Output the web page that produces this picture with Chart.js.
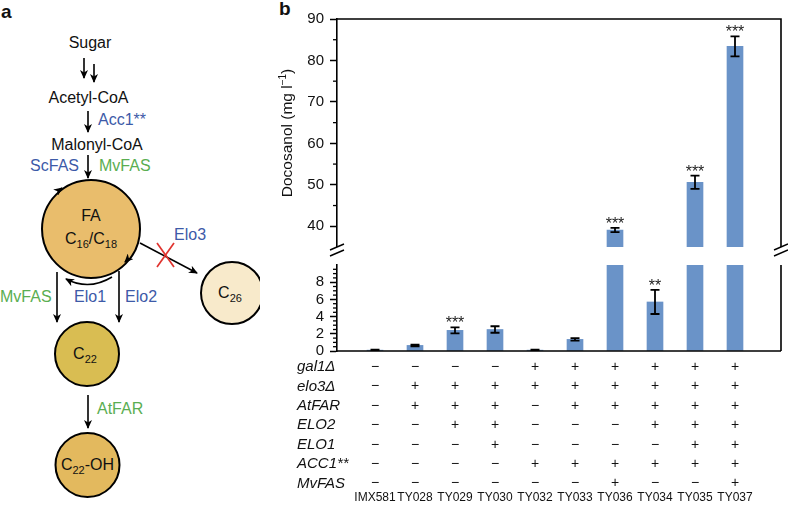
<!DOCTYPE html>
<html><head><meta charset="utf-8">
<script src="https://cdn.jsdelivr.net/npm/chart.js@4/dist/chart.umd.min.js"></script>
<style>
html,body{margin:0;padding:0;background:#fff;}
#wrap{position:relative;width:788px;height:506px;overflow:hidden;font-family:"Liberation Sans",Arial,Helvetica,sans-serif;background:#fff;}
#diag{position:absolute;left:0;top:0;}
#botBox{position:absolute;left:260px;top:250px;width:528px;height:256px;}
#topBox{position:absolute;left:260px;top:0;width:528px;height:262px;}
#lblB{position:absolute;left:279px;top:-2px;font-weight:bold;font-size:19px;color:#111;}
</style></head><body>
<div id="wrap">
<svg id="diag" width="260" height="506" font-family="Liberation Sans, Arial, sans-serif" font-size="16" fill="#111">
  <defs>
    <marker id="ah" markerWidth="9" markerHeight="8" refX="8" refY="4" orient="auto" markerUnits="userSpaceOnUse">
      <path d="M0,0 L9,4 L0,8 L2.5,4 z" fill="#000"/>
    </marker>
  </defs>
  <text x="1" y="18" font-weight="bold" font-size="19">a</text>
  <text x="90" y="48" text-anchor="middle">Sugar</text>
  <line x1="84" y1="58" x2="84" y2="78" stroke="#000" stroke-width="1.6" marker-end="url(#ah)"/>
  <line x1="94" y1="64" x2="94" y2="82" stroke="#000" stroke-width="1.6" marker-end="url(#ah)"/>
  <text x="88.5" y="103" text-anchor="middle">Acetyl-CoA</text>
  <line x1="88" y1="111" x2="88" y2="132" stroke="#000" stroke-width="1.6" marker-end="url(#ah)"/>
  <text x="98" y="125" fill="#3d5aa8">Acc1**</text>
  <text x="97" y="150" text-anchor="middle">Malonyl-CoA</text>
  <line x1="88" y1="155" x2="88" y2="178" stroke="#000" stroke-width="1.6" marker-end="url(#ah)"/>
  <text x="79" y="171" text-anchor="end" fill="#3d5aa8">ScFAS</text>
  <text x="99" y="171" fill="#5aae52">MvFAS</text>

  <circle cx="91" cy="229" r="49" fill="#e9bd6c" stroke="#000" stroke-width="2"/>
  <text x="91" y="221" text-anchor="middle">FA</text>
  <text x="91" y="244" text-anchor="middle">C<tspan font-size="11" dy="4">16</tspan><tspan dy="-4">/C</tspan><tspan font-size="11" dy="4">18</tspan></text>
  <path d="M57.5,191.2 L62,188" stroke="#000" stroke-width="1.6" fill="none" marker-end="url(#ah)"/>
  <path d="M128.5,258.4 L125,262" stroke="#000" stroke-width="1.6" fill="none" marker-end="url(#ah)"/>
  <path d="M112,277 Q89,291 66,279" stroke="#000" stroke-width="1.6" fill="none" marker-end="url(#ah)"/>

  <line x1="140" y1="243" x2="197" y2="273" stroke="#000" stroke-width="1.6" marker-end="url(#ah)"/>
  <line x1="157" y1="243" x2="174" y2="267" stroke="#e0332e" stroke-width="1.7"/>
  <line x1="174" y1="243" x2="157" y2="267" stroke="#e0332e" stroke-width="1.7"/>
  <text x="174" y="240" fill="#3d5aa8">Elo3</text>

  <circle cx="232" cy="293" r="31" fill="#f8eacb" stroke="#000" stroke-width="2"/>
  <text x="230" y="298" text-anchor="middle">C<tspan font-size="11" dy="4">26</tspan></text>

  <line x1="57" y1="272" x2="57" y2="322" stroke="#000" stroke-width="1.6" marker-end="url(#ah)"/>
  <line x1="119" y1="271" x2="119" y2="322" stroke="#000" stroke-width="1.6" marker-end="url(#ah)"/>
  <text x="0" y="302" fill="#5aae52">MvFAS</text>
  <text x="74" y="302" fill="#3d5aa8">Elo1</text>
  <text x="125" y="302" fill="#3d5aa8">Elo2</text>

  <circle cx="87" cy="354" r="32" fill="#d9bd52" stroke="#000" stroke-width="2"/>
  <text x="85" y="359" text-anchor="middle">C<tspan font-size="11" dy="4">22</tspan></text>

  <line x1="88" y1="395" x2="88" y2="428" stroke="#000" stroke-width="1.6" marker-end="url(#ah)"/>
  <text x="97" y="414" fill="#5aae52">AtFAR</text>

  <circle cx="87.5" cy="465" r="32" fill="#e3b95e" stroke="#000" stroke-width="2"/>
  <text x="87.5" y="470" text-anchor="middle">C<tspan font-size="11" dy="4">22</tspan><tspan dy="-4">-OH</tspan></text>
</svg>
<div id="lblB">b</div>
<div id="botBox"><canvas id="bot" width="528" height="256"></canvas></div>
<div id="topBox"><canvas id="top" width="528" height="262"></canvas></div>
</div>
<script>
// ---- data ----
const strains = ['IMX581','TY028','TY029','TY030','TY032','TY033','TY036','TY034','TY035','TY037'];
const docosanol = [0.1, 0.65, 2.4, 2.5, 0.1, 1.35, 39.1, 5.7, 50.6, 83.4];
const docosanolErr = [0.05, 0.1, 0.35, 0.38, 0.05, 0.15, 0.5, 1.4, 1.6, 2.4];
const significance = ['', '', '***', '', '', '', '***', '**', '***', '***'];
const geneLabels = ['gal1Δ','elo3Δ','AtFAR','ELO2','ELO1','ACC1**','MvFAS'];
const gal1Del = [0,0,0,0,1,1,1,1,1,1];
const elo3Del = [0,1,1,1,1,1,1,1,1,1];
const atFAR   = [0,1,1,1,0,1,1,1,1,1];
const elo2    = [0,0,1,1,0,0,0,1,1,1];
const elo1    = [0,0,0,1,0,0,0,0,1,1];
const acc1    = [0,0,0,0,1,1,1,1,1,1];
const mvFAS   = [0,0,0,0,0,0,1,0,0,1];
const genotypeRows = [gal1Del, elo3Del, atFAR, elo2, elo1, acc1, mvFAS];
const upperTicks = [40,50,60,70,80,90];
const lowerTicks = [0,2,4,6,8];

Chart.defaults.font.family = '"Liberation Sans", Arial, Helvetica, sans-serif';
Chart.defaults.color = '#111';

const points = docosanol.map((v,i)=>({x:i, y:v}));
const BAR = '#6a93c8';

function yScaleCfg(min, max, tickVals){
  return {
    min, max, position:'left',
    afterFit: s => { s.width = 77; },
    afterBuildTicks: s => { s.ticks = tickVals.map(v=>({value:v})); },
    border:{display:true, color:'#000', width:1.6},
    grid:{display:true, drawOnChartArea:false, drawTicks:true, tickLength:7, tickColor:'#000', tickWidth:1.5},
    ticks:{font:{size:15}, color:'#111', padding:6}
  };
}
const xScaleCfg = {type:'linear', min:-0.95, max:10.15, offset:false, display:false};

const decorPlugin = {
  id:'decor',
  afterDatasetsDraw(chart){
    const o = chart.options.plugins.decor;
    const ctx = chart.ctx, a = chart.chartArea, ys = chart.scales.y, xs = chart.scales.x;
    ctx.save();
    ctx.strokeStyle = '#000'; ctx.lineWidth = 1.3;
    o.minor.forEach(v=>{ const y = ys.getPixelForValue(v); ctx.beginPath(); ctx.moveTo(a.left-4, y); ctx.lineTo(a.left, y); ctx.stroke(); });
    ctx.lineWidth = 1.6;
    ctx.beginPath();
    if (o.part === 'top') { ctx.moveTo(a.left, a.top); ctx.lineTo(a.right, a.top); ctx.lineTo(a.right, a.bottom); }
    else { ctx.moveTo(a.left, a.bottom); ctx.lineTo(a.right, a.bottom); ctx.moveTo(a.right, a.top); ctx.lineTo(a.right, a.bottom); }
    ctx.stroke();
    ctx.save();
    ctx.beginPath(); ctx.rect(a.left, a.top-30, a.right-a.left, a.bottom-a.top+30); ctx.clip();
    docosanol.forEach((v,i)=>{
      if (v < o.lo || v > o.hi) return;
      const x = xs.getPixelForValue(i);
      const yt = ys.getPixelForValue(v + docosanolErr[i]);
      const yb = ys.getPixelForValue(v - docosanolErr[i]);
      ctx.strokeStyle = '#000'; ctx.lineWidth = 1.8;
      ctx.beginPath();
      ctx.moveTo(x, yt); ctx.lineTo(x, yb);
      ctx.moveTo(x-4.5, yt); ctx.lineTo(x+4.5, yt);
      ctx.moveTo(x-4.5, yb); ctx.lineTo(x+4.5, yb);
      ctx.stroke();
      if (significance[i]) {
        ctx.fillStyle = '#222'; ctx.font = '16px "Liberation Sans", Arial, sans-serif';
        ctx.textAlign = 'center'; ctx.textBaseline = 'alphabetic';
        ctx.fillText(significance[i], x, yt + 1);
      }
    });
    ctx.restore();
    ctx.restore();
  },
  afterDraw(chart){
    const o = chart.options.plugins.decor;
    const ctx = chart.ctx, a = chart.chartArea, xs = chart.scales.x;
    ctx.save();
    if (o.part === 'top') {
      [a.left, a.right].forEach(x=>{
        ctx.fillStyle = '#fff';
        ctx.beginPath(); ctx.moveTo(x-7, a.bottom+3); ctx.lineTo(x+7, a.bottom-3); ctx.lineTo(x+7, a.bottom+3); ctx.lineTo(x-7, a.bottom+9); ctx.closePath(); ctx.fill();
        ctx.strokeStyle = '#000'; ctx.lineWidth = 1.4;
        ctx.beginPath();
        ctx.moveTo(x-7, a.bottom+3); ctx.lineTo(x+7, a.bottom-3);
        ctx.moveTo(x-7, a.bottom+9); ctx.lineTo(x+7, a.bottom+3);
        ctx.stroke();
      });
      ctx.translate(28, (a.top + a.bottom)/2);
      ctx.rotate(-Math.PI/2);
      ctx.fillStyle = '#111'; ctx.textBaseline = 'middle'; ctx.textAlign = 'left';
      const f1 = '15.5px "Liberation Sans", Arial, sans-serif', f2 = '10px "Liberation Sans", Arial, sans-serif';
      const s1 = 'Docosanol (mg l', s2 = '−1', s3 = ')';
      ctx.font = f1; const w1 = ctx.measureText(s1).width, w3 = ctx.measureText(s3).width;
      ctx.font = f2; const w2 = ctx.measureText(s2).width;
      let x0 = -(w1+w2+w3)/2;
      ctx.font = f1; ctx.fillText(s1, x0, 0);
      ctx.font = f2; ctx.fillText(s2, x0+w1, -5);
      ctx.font = f1; ctx.fillText(s3, x0+w1+w2, 0);
    } else {
      ctx.fillStyle = '#111'; ctx.textBaseline = 'middle';
      genotypeRows.forEach((row, r)=>{
        const y = 117 + r*19.43;
        ctx.font = 'italic 15px "Liberation Sans", Arial, sans-serif'; ctx.textAlign = 'left';
        ctx.fillText(geneLabels[r], 37, y);
        ctx.font = '14px "Liberation Sans", Arial, sans-serif'; ctx.textAlign = 'center';
        row.forEach((v,i)=> ctx.fillText(v ? '+' : '−', xs.getPixelForValue(i), y));
      });
      ctx.font = '12px "Liberation Sans", Arial, sans-serif'; ctx.textAlign = 'center';
      strains.forEach((s,i)=> ctx.fillText(s, xs.getPixelForValue(i), 248));
    }
    ctx.restore();
  }
};

function makeChart(id, yCfg, pad, decor){
  return new Chart(document.getElementById(id), {
    type:'bar',
    data:{ datasets:[{ data: points, backgroundColor: BAR, borderWidth:0, barThickness:16 }] },
    options:{
      responsive:false, animation:false, devicePixelRatio:1,
      layout:{padding:pad},
      scales:{ x: xScaleCfg, y: yCfg },
      plugins:{ legend:{display:false}, tooltip:{enabled:false}, decor },
      events:[]
    },
    plugins:[decorPlugin]
  });
}

makeChart('bot', yScaleCfg(0, 10, lowerTicks), {left:0, right:7, top:4, bottom:155},
  {part:'bottom', lo:-1, hi:10, minor:[0.5,1,1.5,2.5,3,3.5,4.5,5,5.5,6.5,7,7.5,8.5,9,9.5]});
makeChart('top', yScaleCfg(35, 90, upperTicks), {left:0, right:7, top:19, bottom:14},
  {part:'top', lo:35, hi:100, minor:[45,55,65,75,85]});
</script>
</body></html>
